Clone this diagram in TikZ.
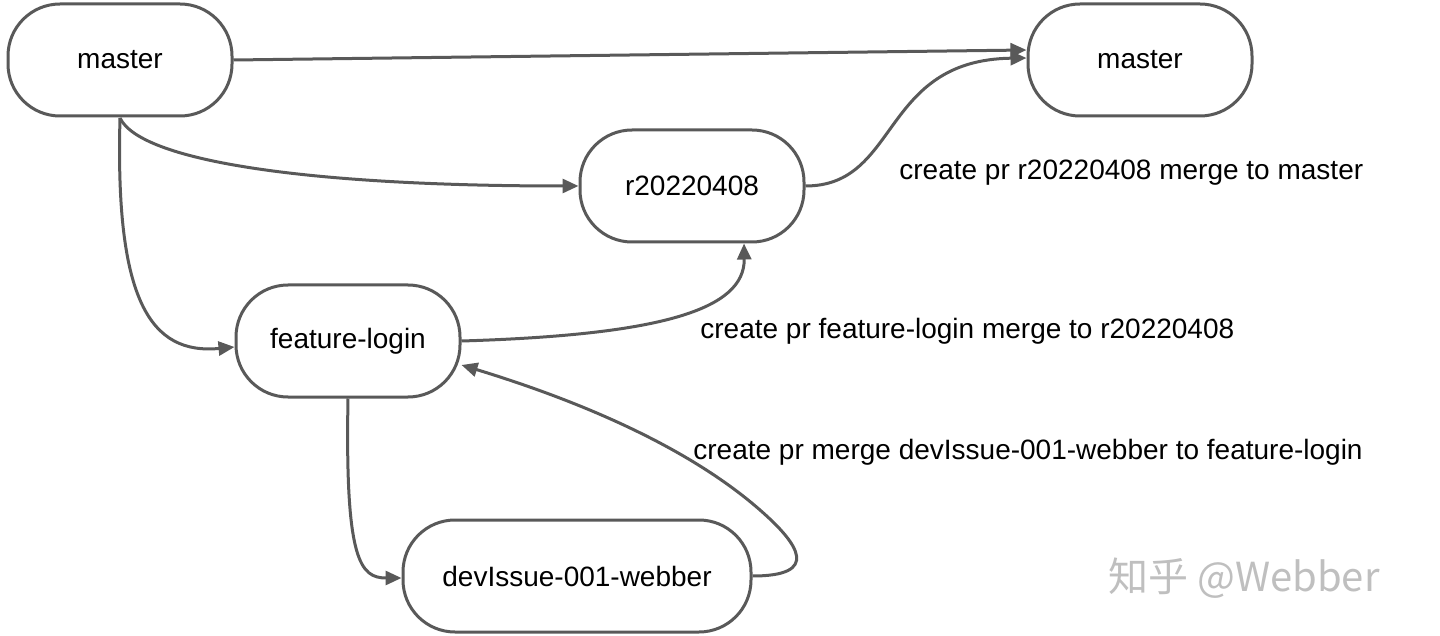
\documentclass[tikz,border=0pt]{standalone}
\usepackage{fontspec}
\setmainfont{Liberation Sans}
\newfontfamily\cjk{Noto Sans CJK SC}
\usetikzlibrary{arrows.meta}
\begin{document}
\begin{tikzpicture}[x=0.5pt,y=-0.5pt,
  pill/.style={draw=black!65,line width=1.5pt,rounded corners=26pt,minimum height=56pt,minimum width=112pt,font=\fontsize{14}{16}\selectfont,fill=white},
  conn/.style={draw=black!65,line width=1.5pt,-{Triangle[length=8pt,width=7pt]}},
  lbl/.style={anchor=west,font=\fontsize{14}{16}\selectfont,inner sep=0pt}]
\useasboundingbox (0,0) rectangle (1440,636);
\node[pill] (m1) at (120,60) {master};
\node[pill] (m2) at (1140,60) {master};
\node[pill] (r) at (692,186) {r20220408};
\node[pill] (f) at (348,341) {feature-login};
\node[pill,minimum width=174pt] (d) at (577,576) {devIssue-001-webber};
\coordinate (m1b) at (120,118);
\draw[conn] (m1.east) -- ([yshift=5pt]m2.west);
\draw[conn] (m1b) .. controls (140,160) and (300,186) .. (r.west);
\draw[conn] (m1b) .. controls (115,300) and (150,355) .. ([yshift=-3pt]f.west);
\draw[conn] (r.east) .. controls (900,186) and (880,60) .. ([yshift=1pt]m2.west);
\draw[conn] (f.east) .. controls (660,335) and (745,310) .. ([xshift=26pt]r.south);
\draw[conn] (f.south) .. controls (345,560) and (360,578) .. ([yshift=-1pt]d.west);
\draw[conn] (d.east) .. controls (820,576) and (800,545) .. (760,510) .. controls (680,440) and (560,395) .. ([yshift=-12pt]f.east);
\node[lbl] (l1) at (899,173) {create pr r20220408 merge to master};
\node[lbl] (l2) at (700,331) {create pr feature-login merge to r20220408};
\node[lbl] (l3) at (693,452) {create pr merge devIssue-001-webber to feature-login};
\node[anchor=west,text=black!25,font=\cjk\fontsize{20}{24}\selectfont,inner sep=0pt] (wm) at (1108,578) {知乎 @Webber};
\end{tikzpicture}
\end{document}
